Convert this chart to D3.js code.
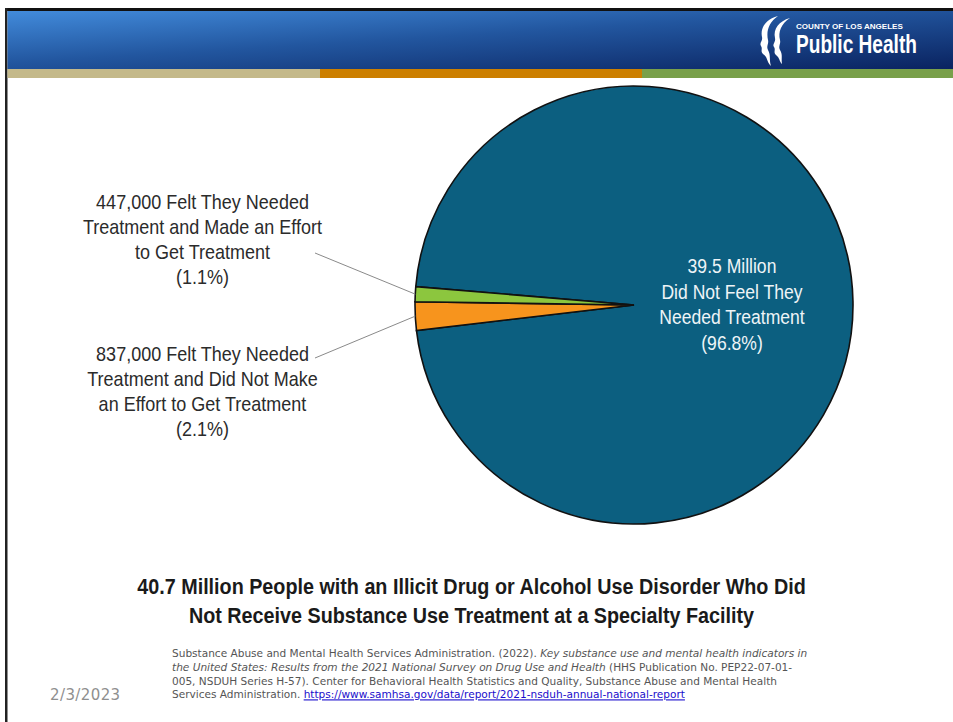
<!DOCTYPE html>
<html>
<head>
<meta charset="utf-8">
<script src="https://cdn.jsdelivr.net/npm/d3@7"></script>
<style>
  html, body { margin: 0; padding: 0; background: #fff; }
  svg { display: block; }
</style>
</head>
<body>
<svg id="chart" width="953" height="722"></svg>
<script>
// ---------- data ----------
const categories = [
  "Felt They Needed Treatment and Did Not Make an Effort to Get Treatment",
  "Felt They Needed Treatment and Made an Effort to Get Treatment",
  "Did Not Feel They Needed Treatment"
];
const peopleCounts = ["837,000", "447,000", "39.5 Million"];
const percentages = [2.1, 1.1, 96.8];
const sliceColors = ["#f7941d", "#8cc63e", "#0c5f80"];

const labelGreen = ["447,000 Felt They Needed", "Treatment and Made an Effort", "to Get Treatment", "(1.1%)"];
const labelOrange = ["837,000 Felt They Needed", "Treatment and Did Not Make", "an Effort to Get Treatment", "(2.1%)"];
const labelBlue = ["39.5 Million", "Did Not Feel They", "Needed Treatment", "(96.8%)"];

const titleLines = [
  "40.7 Million People with an Illicit Drug or Alcohol Use Disorder Who Did",
  "Not Receive Substance Use Treatment at a Specialty Facility"
];
const dateText = "2/3/2023";
const sourceLines = [
  [["Substance Abuse and Mental Health Services Administration. (2022). ", "n"], ["Key substance use and mental health indicators in", "i"]],
  [["the United States: Results from the 2021 National Survey on Drug Use and Health", "i"], [" (HHS Publication No. PEP22-07-01-", "n"]],
  [["005, NSDUH Series H-57). Center for Behavioral Health Statistics and Quality, Substance Abuse and Mental Health", "n"]],
  [["Services Administration. ", "n"], ["https://www.samhsa.gov/data/report/2021-nsduh-annual-national-report", "a"]]
];

// ---------- drawing ----------
const svg = d3.select("#chart");
const W = 953, H = 722;
const sans = "'Liberation Sans', Arial, Helvetica, sans-serif";

const defs = svg.append("defs");
const grad = defs.append("linearGradient").attr("id", "hdr")
  .attr("x1", "0%").attr("y1", "0%").attr("x2", "100%").attr("y2", "100%");
grad.append("stop").attr("offset", "0%").attr("stop-color", "#428bdb");
grad.append("stop").attr("offset", "45%").attr("stop-color", "#22569f");
grad.append("stop").attr("offset", "100%").attr("stop-color", "#0a2360");

// slide frame
svg.append("rect").attr("x", 0).attr("y", 0).attr("width", W).attr("height", H).attr("fill", "#fff");
svg.append("rect").attr("x", 5).attr("y", 8).attr("width", W - 5).attr("height", 3).attr("fill", "#111");
svg.append("rect").attr("x", 5).attr("y", 8).attr("width", 2.5).attr("height", H - 8).attr("fill", "#222");

// header
svg.append("rect").attr("x", 7.5).attr("y", 11).attr("width", W - 7.5).attr("height", 58).attr("fill", "url(#hdr)");
const bands = [["#c4b98a", 7.5, 320], ["#cc7f00", 320, 642], ["#79a04a", 642, W]];
bands.forEach(b => svg.append("rect").attr("x", b[1]).attr("y", 69).attr("width", b[2] - b[1]).attr("height", 9).attr("fill", b[0]));

// helper: horizontally condensed text line(s)
function fitText(parent, str, x, y, size, weight, fill, targetW, anchor) {
  const g = parent.append("g");
  const t = g.append("text").attr("x", 0).attr("y", 0)
    .attr("font-family", sans).attr("font-size", size).attr("font-weight", weight || "normal")
    .attr("fill", fill).text(str);
  const w = t.node().getComputedTextLength();
  const k = targetW / w;
  const x0 = anchor === "middle" ? x - targetW / 2 : x;
  g.attr("transform", `translate(${x0},${y}) scale(${k},1)`);
  return k;
}
function condensedBlock(lines, x, y0, dy, fill, size, weight, k) {
  const g = svg.append("g");
  lines.forEach((s, i) => {
    g.append("text").attr("text-anchor", "middle")
      .attr("transform", `translate(${x},${y0 + i * dy}) scale(${k},1)`)
      .attr("font-family", sans).attr("font-size", size).attr("font-weight", weight || "normal")
      .attr("fill", fill).text(s);
  });
}
function measure(str, size, weight) {
  const t = svg.append("text").attr("font-family", sans).attr("font-size", size)
    .attr("font-weight", weight || "normal").text(str);
  const w = t.node().getComputedTextLength();
  t.remove();
  return w;
}

// logo
const logo = svg.append("g");
logo.append("path")
  .attr("d", "M778,16 C766,19 760,28 762,37 C763,41 759,43 761,46 C763,49 760,51 763,54 C768,57 766,61 771,66 C769,60 771,55 768,50 C766,46 769,44 768,40 C766,31 769,22 778,16 Z")
  .attr("fill", "#fff");
logo.append("path")
  .attr("d", "M790,18 C779,21 773,29 775,38 C776,42 772,44 774,47 C776,50 773,52 776,55 C780,58 779,61 782,64 C781,58 783,55 780,50 C778,46 781,44 780,40 C778,32 781,24 790,18 Z")
  .attr("fill", "#fff");
fitText(logo, "COUNTY OF LOS ANGELES", 796, 28.5, 8, "bold", "#fff", 107, "start");
fitText(logo, "Public Health", 796, 53, 25, "bold", "#fff", 121, "start");

// pie
const cx = 634, cy = 305, R = 219;
const startDeg = 263.3;
const pie = d3.pie().sort(null).value(d => d)
  .startAngle(startDeg * Math.PI / 180).endAngle(startDeg * Math.PI / 180 + 2 * Math.PI);
const arc = d3.arc().innerRadius(0).outerRadius(R);
const arcs = pie(percentages);
const gPie = svg.append("g").attr("transform", `translate(${cx},${cy})`);
[2, 0, 1].forEach(i => {
  gPie.append("path").attr("d", arc(arcs[i]))
    .attr("fill", sliceColors[i])
    .attr("stroke", "#111").attr("stroke-width", 1.6).attr("stroke-linejoin", "miter");
});

// leader lines
const leaders = [
  { from: [315, 253], slice: 1 },
  { from: [315, 358], slice: 0 }
];
leaders.forEach(l => {
  const a = arcs[l.slice];
  const mid = (a.startAngle + a.endAngle) / 2;
  const pt = [cx + Math.sin(mid) * R, cy - Math.cos(mid) * R];
  svg.append("line").attr("x1", l.from[0]).attr("y1", l.from[1])
    .attr("x2", pt[0]).attr("y2", pt[1])
    .attr("stroke", "#8a8a8a").attr("stroke-width", 1);
});

// labels (condensed sans)
const kLabel = 213 / measure(labelGreen[0], 20);
condensedBlock(labelGreen, 202.5, 209, 25, "#2b2b2b", 20, "normal", kLabel);
condensedBlock(labelOrange, 202.5, 361, 25, "#2b2b2b", 20, "normal", kLabel);
condensedBlock(labelBlue, 732, 273, 25.5, "#eef4f7", 19.5, "normal", kLabel);

// title
const kTitle = 669 / measure(titleLines[0], 22.5, "bold");
condensedBlock(titleLines, 471.5, 594, 29, "#1a1a1a", 22.5, "bold", kTitle);

// date
svg.append("text").attr("x", 50).attr("y", 700)
  .attr("font-family", "'DejaVu Sans', Tahoma, sans-serif").attr("font-size", 15)
  .attr("letter-spacing", 0.4).attr("fill", "#8f8f8f").text(dateText);

// source
const srcFont = "'DejaVu Sans Condensed', 'DejaVu Sans', Tahoma, sans-serif";
const srcG = svg.append("g");
const src = srcG.append("text").attr("font-family", srcFont)
  .attr("font-size", 11).attr("fill", "#555");
sourceLines.forEach((parts, i) => {
  parts.forEach((p, j) => {
    const ts = src.append("tspan").text(p[0]);
    if (j === 0) ts.attr("x", 0).attr("y", i * 13.8);
    if (p[1] === "i") ts.attr("font-style", "italic");
    if (p[1] === "a") ts.attr("fill", "#1a0dcc").attr("text-decoration", "underline");
  });
});
const tmp = svg.append("text").attr("font-family", srcFont).attr("font-size", 11);
sourceLines[0].forEach(p => { const ts = tmp.append("tspan").text(p[0]); if (p[1] === "i") ts.attr("font-style", "italic"); });
const kSrc = 636 / tmp.node().getComputedTextLength();
tmp.remove();
srcG.attr("transform", `translate(172,657) scale(${kSrc},1)`);
</script>
</body>
</html>
